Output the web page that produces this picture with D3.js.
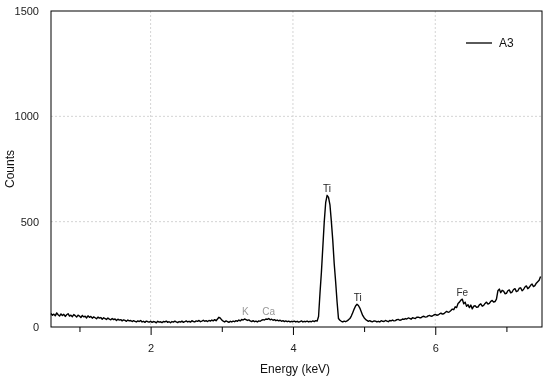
<!DOCTYPE html>
<html><head><meta charset="utf-8">
<script src="https://cdn.jsdelivr.net/npm/d3@7"></script>
<style>body{margin:0;background:#fff}svg{display:block;font-family:"Liberation Sans",Arial,sans-serif;filter:grayscale(1)}</style>
</head><body><svg id="c" width="550" height="380"></svg>
<script>
// Spectrum A3: counts sampled every 0.02 keV starting at 0.60 keV
const energyStart = 0.60;
const energyStep = 0.02;
const counts = [
  64,56,61,53,67,58,52,62,55,60,
  50,58,63,52,56,49,59,54,47,56,
  52,45,55,48,51,43,53,46,50,42,
  48,44,39,47,42,45,37,44,40,36,
  43,37,34,40,35,38,31,37,33,35,
  29,34,31,27,33,29,31,26,30,27,
  24,29,26,31,24,27,22,28,25,23,
  27,22,26,24,20,27,23,25,21,26,
  24,28,22,25,20,26,23,28,24,21,
  26,23,28,22,25,29,24,27,23,30,
  26,24,29,27,31,25,28,32,27,30,
  26,31,28,33,29,35,30,38,46,42,
  33,28,24,29,26,22,27,24,28,25,
  30,27,33,29,36,33,38,35,31,34,
  29,26,30,25,28,24,29,27,32,35,
  33,38,36,40,34,37,32,35,30,33,
  29,32,27,30,26,29,25,28,24,27,
  25,28,24,27,23,26,29,24,27,25,
  28,24,27,25,29,26,30,28,50,160,
  260,380,500,590,625,615,580,500,410,300,
  215,120,40,32,27,24,28,25,29,34,
  40,52,68,85,100,108,102,90,72,55,
  44,36,31,27,30,26,25,29,28,24,
  27,24,30,27,26,31,28,25,31,29,
  33,29,30,35,36,32,33,38,36,40,
  38,43,41,37,44,42,40,46,47,44,
  44,49,51,47,48,53,55,51,52,57,
  60,56,57,62,66,61,63,69,74,70,
  72,78,85,82,96,92,112,118,128,132,
  110,118,98,106,92,104,86,99,101,94,
  95,105,110,99,103,112,118,109,112,122,
  126,118,121,132,172,180,163,174,170,158,
  160,172,176,162,166,178,182,168,171,184,
  186,172,178,190,195,182,188,198,204,192,
  196,208,215,222,240
];
const seriesName = "A3";
const xMajorTicks = [2, 4, 6];
const xMinorTicks = [1, 3, 5, 7];
const yTicks = [0, 500, 1000, 1500];
const peakLabels = [
  {label: "Ti", e: 4.48, c: 640, color: "#222222"},
  {label: "Ti", e: 4.91, c: 125, color: "#222222"},
  {label: "K",  e: 3.33, c: 55,  color: "#999999"},
  {label: "Ca", e: 3.66, c: 58,  color: "#999999"},
  {label: "Fe", e: 6.38, c: 148, color: "#333333"}
];

const data = counts.map((v, i) => ({e: energyStart + i * energyStep, c: v}));
const svg = d3.select("#c");
const m = {l: 51, r: 8, t: 11, b: 53};
const W = 550, H = 380;
const x = d3.scaleLinear().domain([0.6, 7.5]).range([m.l, W - m.r]);
const y = d3.scaleLinear().domain([0, 1500]).range([H - m.b, m.t]);

// grid
svg.append("g").selectAll("line").data(xMajorTicks).join("line")
  .attr("x1", d => x(d)).attr("x2", d => x(d)).attr("y1", y(1500)).attr("y2", y(0))
  .attr("stroke", "#d4d4d4").attr("stroke-dasharray", "2,2");
svg.append("g").selectAll("line").data([500, 1000]).join("line")
  .attr("x1", x(0.6)).attr("x2", x(7.5)).attr("y1", d => y(d)).attr("y2", d => y(d))
  .attr("stroke", "#d4d4d4").attr("stroke-dasharray", "2,2");

// line
svg.append("path").datum(data)
  .attr("fill", "none").attr("stroke", "#000").attr("stroke-width", 1.4)
  .attr("stroke-linejoin", "round")
  .attr("d", d3.line().x(d => x(d.e)).y(d => y(d.c)));

// frame
svg.append("rect").attr("x", m.l).attr("y", m.t)
  .attr("width", W - m.r - m.l).attr("height", H - m.b - m.t)
  .attr("fill", "none").attr("stroke", "#000").attr("stroke-width", 1);

// x axis
const xa = svg.append("g").attr("transform", `translate(0,${y(0)})`)
  .call(d3.axisBottom(x).tickValues(xMajorTicks).tickSize(8).tickPadding(9).tickFormat(d3.format("d")));
xa.select(".domain").remove();
xa.selectAll("text").attr("font-size", 11).attr("fill", "#222").attr("font-family", "Liberation Sans, Arial");
svg.append("g").attr("transform", `translate(0,${y(0)})`)
  .call(d3.axisBottom(x).tickValues(xMinorTicks).tickSize(5).tickFormat(""))
  .select(".domain").remove();

// y axis
const ya = svg.append("g").attr("transform", `translate(${m.l},0)`)
  .call(d3.axisLeft(y).tickValues(yTicks).tickSize(0).tickPadding(12).tickFormat(d3.format("d")));
ya.select(".domain").remove();
ya.selectAll("text").attr("font-size", 11).attr("fill", "#222").attr("font-family", "Liberation Sans, Arial");

// axis titles
svg.append("text").attr("x", x(4.03)).attr("y", 373).attr("text-anchor", "middle")
  .attr("font-size", 12).attr("fill", "#111").text("Energy (keV)");
svg.append("text").attr("transform", `translate(14,${(m.t + H - m.b) / 2}) rotate(-90)`)
  .attr("text-anchor", "middle").attr("font-size", 12).attr("fill", "#111").text("Counts");

// peak labels
svg.append("g").selectAll("text").data(peakLabels).join("text")
  .attr("x", d => x(d.e)).attr("y", d => y(d.c)).attr("text-anchor", "middle")
  .attr("font-size", 10).style("fill", d => d.color).text(d => d.label);

// legend
svg.append("line").attr("x1", 466).attr("x2", 492).attr("y1", 43).attr("y2", 43)
  .attr("stroke", "#000").attr("stroke-width", 1.3);
svg.append("text").attr("x", 499).attr("y", 47).attr("font-size", 12).attr("fill", "#111").text(seriesName);
</script></body></html>
